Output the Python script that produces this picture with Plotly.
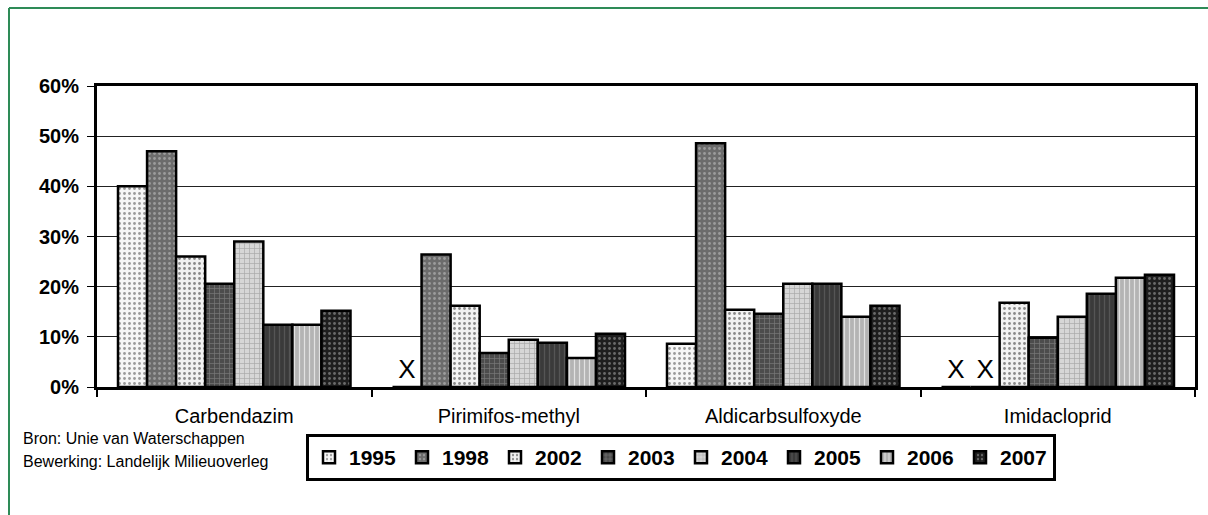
import plotly.graph_objects as go

# Share of samples exceeding the norm, per substance and year
substances = ["Carbendazim", "Pirimifos-methyl", "Aldicarbsulfoxyde", "Imidacloprid"]
years = ["1995", "1998", "2002", "2003", "2004", "2005", "2006", "2007"]

# None = not measured (shown as "X")
v1995 = [40.0, None, 8.6, None]
v1998 = [47.0, 26.4, 48.6, None]
v2002 = [26.0, 16.2, 15.4, 16.8]
v2003 = [20.6, 6.8, 14.6, 9.8]
v2004 = [29.0, 9.4, 20.6, 14.0]
v2005 = [12.4, 8.8, 20.6, 18.6]
v2006 = [12.4, 5.8, 14.0, 21.8]
v2007 = [15.2, 10.6, 16.2, 22.4]
series = [v1995, v1998, v2002, v2003, v2004, v2005, v2006, v2007]

# Greyscale fills with a fine texture, one per year
styles = [
    dict(bg="#f6f6f6", fg="#9a9a9a", shape="."),
    dict(bg="#6c6c6c", fg="#9c9c9c", shape="."),
    dict(bg="#f2f2f2", fg="#8a8a8a", shape="."),
    dict(bg="#4c4c4c", fg="#7a7a7a", shape="+"),
    dict(bg="#d6d6d6", fg="#a8a8a8", shape="+"),
    dict(bg="#3a3a3a", fg="#555555", shape="|"),
    dict(bg="#b4b4b4", fg="#e2e2e2", shape="|"),
    dict(bg="#1e1e1e", fg="#6a6a6a", shape="."),
]

FONT = "Liberation Sans, Arial, sans-serif"

fig = go.Figure()
for year, vals, st in zip(years, series, styles):
    y = [0 if v is None else v for v in vals]
    txt = ["X" if v is None else "" for v in vals]
    fig.add_trace(go.Bar(
        name=year,
        x=substances,
        y=y,
        text=txt,
        textposition="outside",
        cliponaxis=False,
        textfont=dict(family=FONT, size=26, color="#000000"),
        marker=dict(
            color=st["bg"],
            line=dict(color="#000000", width=2.5),
            pattern=dict(shape=st["shape"], fgcolor=st["fg"], bgcolor=st["bg"],
                         size=5, solidity=0.25, fillmode="replace"),
        ),
        hoverinfo="skip",
    ))

L, R, T, B = 97, 13, 86, 128
W, H = 1208, 515
pw, ph = W - L - R, H - T - B


def px(xp):
    return (xp - L) / pw


def py(yp):
    return (H - B - yp) / ph


fig.update_layout(
    width=W, height=H,
    margin=dict(l=L, r=R, t=T, b=B, autoexpand=False),
    paper_bgcolor="#ffffff",
    plot_bgcolor="#ffffff",
    barmode="group",
    bargap=0.153,
    bargroupgap=0,
    font=dict(family=FONT, color="#000000"),
    showlegend=True,
    legend=dict(
        orientation="h",
        x=px(306), y=py(434),
        xanchor="left", yanchor="top",
        bordercolor="#000000", borderwidth=3,
        bgcolor="#ffffff",
        font=dict(family=FONT, size=21, color="#000000", weight="bold"),
        entrywidth=48, entrywidthmode="pixels",
        itemwidth=30,
        traceorder="normal",
    ),
    xaxis=dict(
        showline=True, linecolor="#000000", linewidth=3, mirror=True,
        ticks="outside", tickson="boundaries", ticklen=7, tickwidth=2, tickcolor="#000000",
        tickfont=dict(family=FONT, size=20, color="#000000"),
        ticklabelstandoff=9,
        showgrid=False,
        automargin=False,
        fixedrange=True,
    ),
    yaxis=dict(
        range=[0, 60], dtick=10, ticksuffix="%",
        showline=True, linecolor="#000000", linewidth=3, mirror=True,
        ticks="outside", ticklen=7, tickwidth=1, tickcolor="#000000",
        tickfont=dict(family=FONT, size=20, color="#000000", weight="bold"),
        ticklabelstandoff=4,
        showgrid=True, gridcolor="#222222", gridwidth=1,
        zeroline=False,
        automargin=False,
        fixedrange=True,
    ),
    shapes=[
        dict(type="line", xref="paper", yref="paper", x0=px(9), x1=px(W + 5), y0=py(8), y1=py(8),
             line=dict(color="#2e8b57", width=2)),
        dict(type="line", xref="paper", yref="paper", x0=px(9), x1=px(9), y0=py(8), y1=py(H + 5),
             line=dict(color="#2e8b57", width=2)),
    ],
    annotations=[
        dict(text="Bron: Unie van Waterschappen", xref="paper", yref="paper",
             x=px(21), y=py(438), xanchor="left", yanchor="middle", showarrow=False,
             font=dict(family=FONT, size=16, color="#000000")),
        dict(text="Bewerking: Landelijk Milieuoverleg", xref="paper", yref="paper",
             x=px(21), y=py(461), xanchor="left", yanchor="middle", showarrow=False,
             font=dict(family=FONT, size=16, color="#000000")),
    ],
)

fig.write_html("out.html")
